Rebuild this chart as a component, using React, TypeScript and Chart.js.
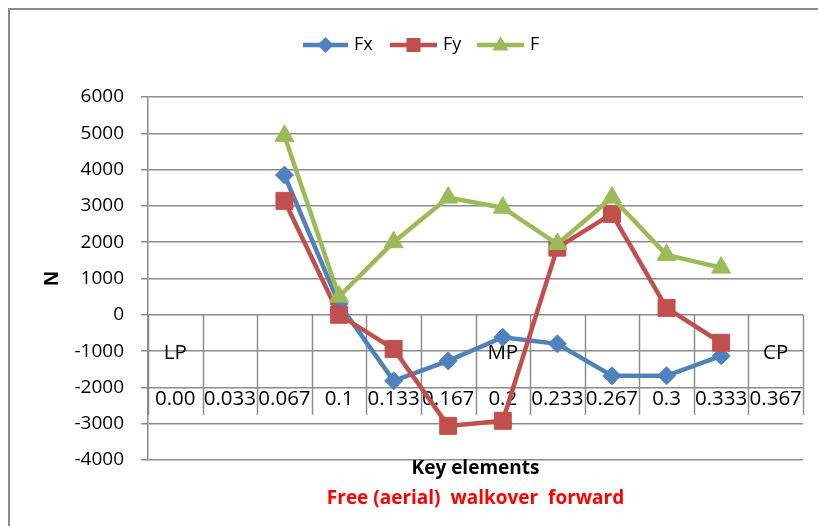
import React, { useEffect, useRef } from "react";
import { Chart, registerables } from "chart.js";

Chart.register(...registerables);

// Key element time stamps (s) and phase markers
const categories = ["0.00", "0.033", "0.067", "0.1", "0.133", "0.167", "0.2", "0.233", "0.267", "0.3", "0.333", "0.367"];
const phases = ["LP", "", "", "", "", "", "MP", "", "", "", "", "CP"];

// Force components (N)
const fx = [null, null, 3850, 300, -1820, -1270, -620, -800, -1680, -1680, -1130, null];
const fy = [null, null, 3140, 0, -940, -3060, -2920, 1850, 2780, 190, -770, null];
const f = [null, null, 4930, 500, 2000, 3230, 2950, 1950, 3230, 1650, 1300, null];

const yMin = -4000;
const yMax = 6000;
const yStep = 1000;

const BLUE = "#4F81BD";
const RED = "#C0504D";
const GREEN = "#9BBB59";
const GRID = "#8c8c8c";
const FONT = "'Open Sans', 'Noto Sans', sans-serif";

function marker(ctx: CanvasRenderingContext2D, kind: string, x: number, y: number, s: number, color: string) {
  ctx.save();
  ctx.fillStyle = color;
  ctx.beginPath();
  if (kind === "diamond") {
    ctx.moveTo(x, y - s);
    ctx.lineTo(x + s, y);
    ctx.lineTo(x, y + s);
    ctx.lineTo(x - s, y);
  } else if (kind === "square") {
    ctx.rect(x - s, y - s, 2 * s, 2 * s);
  } else {
    ctx.moveTo(x, y - s * 1.1);
    ctx.lineTo(x + s, y + s * 0.7);
    ctx.lineTo(x - s, y + s * 0.7);
  }
  ctx.closePath();
  ctx.fill();
  ctx.restore();
}

const tablePlugin = {
  id: "keyTable",
  beforeDatasetsDraw(chart: any) {
    const { ctx, chartArea, scales } = chart;
    const y0 = scales.y.getPixelForValue(0);
    const w = (chartArea.right - chartArea.left) / categories.length;
    ctx.save();
    ctx.strokeStyle = GRID;
    ctx.lineWidth = 1.5;
    for (let k = 0; k <= categories.length; k++) {
      const xx = Math.round(chartArea.left + k * w) + 0.5;
      ctx.beginPath();
      ctx.moveTo(xx, y0);
      ctx.lineTo(xx, y0 + 100);
      ctx.stroke();
    }
    ctx.fillStyle = "#000";
    ctx.font = `20.5px ${FONT}`;
    ctx.textAlign = "center";
    ctx.textBaseline = "middle";
    categories.forEach((c, i) => {
      const xx = scales.x.getPixelForValue(i);
      ctx.fillText(c, xx, y0 + 84);
      if (phases[i]) ctx.fillText(phases[i], xx, y0 + 38);
    });
    ctx.restore();
  },
  afterDraw(chart: any) {
    const { ctx, chartArea } = chart;
    ctx.save();
    // frame
    ctx.strokeStyle = "#8a8a8a";
    ctx.lineWidth = 2;
    ctx.beginPath();
    ctx.moveTo(9, 526);
    ctx.lineTo(9, 9);
    ctx.lineTo(818, 9);
    ctx.stroke();

    // legend
    const items = [
      { label: "Fx", color: BLUE, kind: "diamond", x0: 303, x1: 348, tx: 354 },
      { label: "Fy", color: RED, kind: "square", x0: 390, x1: 437, tx: 443 },
      { label: "F", color: GREEN, kind: "triangle", x0: 477, x1: 524, tx: 530 },
    ];
    const ly = 45;
    ctx.font = `18px ${FONT}`;
    ctx.textBaseline = "middle";
    ctx.textAlign = "left";
    items.forEach((it) => {
      ctx.strokeStyle = it.color;
      ctx.lineWidth = 4.5;
      ctx.beginPath();
      ctx.moveTo(it.x0, ly);
      ctx.lineTo(it.x1, ly);
      ctx.stroke();
      marker(ctx, it.kind, (it.x0 + it.x1) / 2, ly, it.kind === "square" ? 7 : 8, it.color);
      ctx.fillStyle = "#000";
      ctx.fillText(it.label, it.tx, ly);
    });

    // axis titles
    const cx = (chartArea.left + chartArea.right) / 2;
    ctx.textAlign = "center";
    ctx.font = `bold 19px ${FONT}`;
    ctx.fillStyle = "#000";
    ctx.fillText("Key elements", cx, 469);
    ctx.fillStyle = "#ff0000";
    ctx.fillText("Free (aerial)  walkover  forward", cx, 499);

    ctx.save();
    ctx.translate(53, (chartArea.top + chartArea.bottom) / 2);
    ctx.rotate(-Math.PI / 2);
    ctx.fillStyle = "#000";
    ctx.font = `bold 19px ${FONT}`;
    ctx.fillText("N", 0, 0);
    ctx.restore();
    ctx.restore();
  },
};

export default function App() {
  const ref = useRef<HTMLCanvasElement | null>(null);

  useEffect(() => {
    if (!ref.current) return;
    const common = { borderWidth: 4.5, pointBorderWidth: 1, tension: 0, fill: false };
    const chart = new Chart(ref.current, {
      type: "line",
      data: {
        labels: categories,
        datasets: [
          { ...common, label: "Fx", data: fx, borderColor: BLUE, backgroundColor: BLUE, pointStyle: "rectRot", pointRadius: 9, order: 2 },
          { ...common, label: "Fy", data: fy, borderColor: RED, backgroundColor: RED, pointStyle: "rect", pointRadius: 12, order: 1 },
          { ...common, label: "F", data: f, borderColor: GREEN, backgroundColor: GREEN, pointStyle: "triangle", pointRadius: 11, order: 0 },
        ],
      },
      options: {
        responsive: false,
        animation: false,
        layout: { padding: { left: 0, top: 97, right: 15, bottom: 66 } },
        plugins: { legend: { display: false }, tooltip: { enabled: false } },
        scales: {
          x: { type: "category", display: false, offset: true },
          y: {
            min: yMin,
            max: yMax,
            afterFit(scale: any) {
              scale.width = 148;
            },
            ticks: {
              stepSize: yStep,
              color: "#000",
              padding: 17,
              font: { family: FONT, size: 19 },
              callback: (v: any) => String(v),
            },
            grid: { color: GRID, lineWidth: 1.5, tickLength: 7, drawTicks: true },
            border: { display: true, color: GRID, width: 1.5 },
          },
        },
      },
      plugins: [tablePlugin],
    });
    return () => chart.destroy();
  }, []);

  return (
    <div style={{ position: "absolute", left: 0, top: 0, width: 818, height: 526, background: "#fff" }}>
      <canvas ref={ref} width={818} height={526} style={{ display: "block" }} />
    </div>
  );
}
